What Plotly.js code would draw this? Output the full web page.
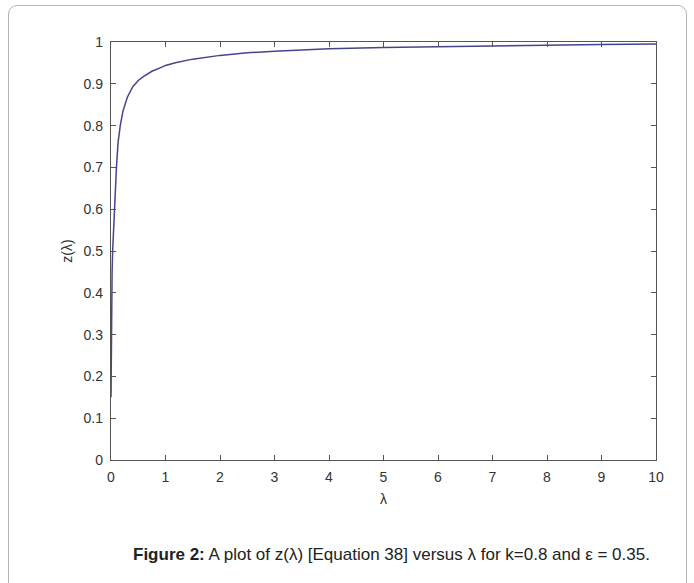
<!DOCTYPE html>
<html>
<head>
<meta charset="utf-8">
<script src="https://cdn.plot.ly/plotly-3.0.1.min.js"></script>
<style>
  html, body { margin: 0; padding: 0; background: #ffffff; }
  #frame { position: absolute; left: 8px; top: 5px; width: 679px; height: 620px;
           border: 1px solid #b5b5b5; border-radius: 9px; box-sizing: border-box; }
  #chart { position: absolute; left: 0; top: 0; width: 694px; height: 583px; }
</style>
</head>
<body>
<div id="frame"></div>
<div id="chart"></div>
<script>
// λ values and z(λ)
const lambdaVals = [0, 0.005, 0.01, 0.02, 0.03, 0.05, 0.07, 0.1, 0.13, 0.17, 0.22, 0.3, 0.4, 0.5, 0.6, 0.75, 0.9, 1.0, 1.2, 1.5, 2, 2.5, 3, 3.5, 4, 5, 6, 7, 8, 9, 10];
const zVals      = [0.15, 0.30, 0.38, 0.45, 0.50, 0.57, 0.63, 0.70, 0.76, 0.80, 0.835, 0.868, 0.893, 0.908, 0.918, 0.930, 0.938, 0.944, 0.951, 0.959, 0.968, 0.974, 0.978, 0.981, 0.984, 0.987, 0.989, 0.991, 0.993, 0.994, 0.995];
const xTicks = [0, 1, 2, 3, 4, 5, 6, 7, 8, 9, 10];
const yTicks = [0, 0.1, 0.2, 0.3, 0.4, 0.5, 0.6, 0.7, 0.8, 0.9, 1];
const captionBold = "Figure 2:";
const captionText = " A plot of z(λ) [Equation 38] versus λ for k=0.8 and ε = 0.35.";

const axisFont = { family: "Liberation Sans, Arial, sans-serif", size: 14, color: "#333333" };

const trace = {
  x: lambdaVals, y: zVals, type: "scatter", mode: "lines",
  line: { color: "#45458f", width: 1.5 }, hoverinfo: "skip", showlegend: false
};

const layout = {
  width: 694, height: 583,
  margin: { l: 111, r: 38, t: 42, b: 123 },
  paper_bgcolor: "rgba(0,0,0,0)", plot_bgcolor: "#ffffff",
  xaxis: {
    range: [0, 10], tickvals: xTicks, ticktext: xTicks.map(String),
    ticks: "inside", ticklen: 5, tickcolor: "#555555", tickwidth: 1,
    showline: true, linecolor: "#555555", linewidth: 1.2, mirror: "allticks",
    showgrid: false, zeroline: false, tickfont: axisFont, automargin: false,
    ticklabelstandoff: 4,
    title: { text: "λ", font: { family: "Liberation Sans, Arial, sans-serif", size: 14, color: "#333333" }, standoff: 10 }
  },
  yaxis: {
    range: [0, 1], tickvals: yTicks, ticktext: yTicks.map(String),
    ticks: "inside", ticklen: 5, tickcolor: "#555555", tickwidth: 1,
    showline: true, linecolor: "#555555", linewidth: 1.2, mirror: "allticks",
    showgrid: false, zeroline: false, tickfont: axisFont, automargin: false,
    ticklabelstandoff: 4,
    title: { text: "z(λ)", font: { family: "Liberation Sans, Arial, sans-serif", size: 14, color: "#333333" }, standoff: 7 }
  },
  annotations: [{
    xref: "paper", yref: "paper", x: 0.514, y: -0.227, xanchor: "center", yanchor: "middle",
    text: "<b>" + captionBold + "</b>" + captionText, showarrow: false,
    font: { family: "Liberation Sans, Arial, sans-serif", size: 17, color: "#222222" }
  }]
};

Plotly.newPlot("chart", [trace], layout, { displayModeBar: false, staticPlot: true });
</script>
</body>
</html>
